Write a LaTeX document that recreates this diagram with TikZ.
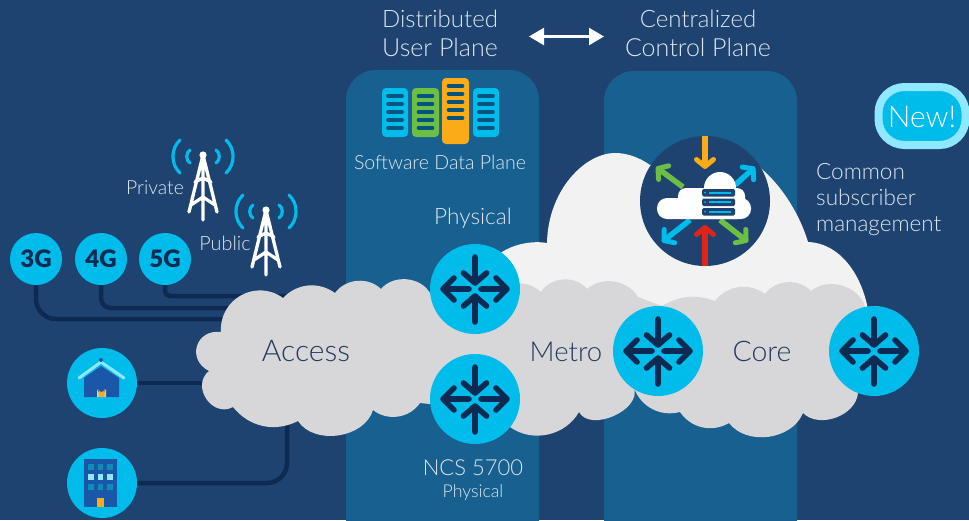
\documentclass[tikz,border=0pt]{standalone}
\usepackage{fontspec}
\setmainfont{Lato Light}
\newfontfamily\heavyf{Lato Black}
\usetikzlibrary{arrows.meta}
\definecolor{bgc}{HTML}{1F4370}
\definecolor{panelc}{HTML}{186090}
\definecolor{navy}{HTML}{0D2A52}
\definecolor{cyanc}{HTML}{00BCEB}
\definecolor{lcyan}{HTML}{8FE8FF}
\definecolor{greyc}{HTML}{D7D7D9}
\definecolor{whitec}{HTML}{F2F2F2}
\definecolor{greenc}{HTML}{6CBE45}
\definecolor{orangec}{HTML}{FBAB18}
\definecolor{redc}{HTML}{E2231A}
\definecolor{slotc}{HTML}{05537F}
\definecolor{blued}{HTML}{1A57A8}
\definecolor{tealc}{HTML}{0B8FB5}
\definecolor{textl}{HTML}{DDE6EE}
\definecolor{textd}{HTML}{25395F}
\newcommand{\fs}[1]{\fontsize{#1}{#1}\selectfont}
\tikzset{
  x=1pt,y=-1pt,
  panel/.style={fill=panelc,rounded corners=30},
  wire/.style={draw=navy,line width=4.5pt},
  dot/.style={circle,fill=cyanc,inner sep=0pt,minimum size=#1},
  gen/.style={dot=52pt,text=navy,font=\heavyf\fs{24}},
  routerc/.style={dot=90pt},
  lbl/.style={text=textl,inner sep=0pt,anchor=base},
  lblw/.style={text=textl,inner sep=0pt,anchor=base west},
  cloudlbl/.style={text=textd,inner sep=0pt,anchor=base},
  rack/.style={rounded corners=4},
  slot/.style={draw=slotc,line width=3.6pt,line cap=round},
  ctl/.style={line width=5.5pt,-{Straight Barb[length=7pt,width=17pt,line width=5pt,round]}},
  routerarrows/.pic={
    \draw[navy,line width=5.6pt,line cap=round,line join=round]
      (0,-32)--(0,-6) (-11.5,-16)--(0,-6)--(11.5,-16)
      (0,33)--(0,7) (-11.5,17)--(0,7)--(11.5,17)
      (-6,0)--(-32,0) (-21,-11)--(-32,0)--(-21,11)
      (6,0)--(32,0) (21,-11)--(32,0)--(21,11);
  },
  tower/.pic={
    \fill[white] (0,0) circle (3.6);
    \draw[white,line width=3.3pt,line cap=round,line join=round]
      (-14,57)--(0,0)--(14,57) (0,0)--(0,65)
      (-8,27)--(0,23)--(8,27) (-12,50)--(0,42)--(12,50);
    \draw[cyanc,line width=3.2pt,line cap=round]
      (-23,-15) to[bend right=47] (-23,18)
      (23,-15) to[bend left=47] (23,18)
      (-13,-5) to[bend right=60] (-13,8)
      (13,-5) to[bend left=60] (13,8);
  },
}
\begin{document}
\begin{tikzpicture}
\useasboundingbox (0,0) rectangle (969,520);
\fill[bgc] (0,0) rectangle (969,520);
% panels
\fill[panel] (346,70) rectangle (539,560);
\fill[panel] (604,71) rectangle (797,560);
% access nodes and wires
\node[gen] (n3g) at (36,259) {3G};
\node[gen] (n4g) at (101,259) {4G};
\node[gen] (n5g) at (165,259) {5G};
\node[dot=70pt] (home) at (102,383) {};
\node[dot=70pt] (bldg) at (102,483) {};
\coordinate (e3) at (260,319);
\coordinate (e4) at (260,308);
\coordinate (e5) at (290,296);
\coordinate (eh) at (225,383);
\coordinate (eb) at (287,410);
\draw[wire,rounded corners=20] (n3g.south) |- (e3);
\draw[wire,rounded corners=10] (n4g.south) |- (e4);
\draw[wire,rounded corners=5] (n5g.south) |- (e5);
\draw[wire] (home.east) -- (eh);
\draw[wire,rounded corners=20] (bldg.east) -| (eb);
% home icon
\fill[blued] (84,397)--(84,378)--(101,366)--(119,378)--(119,397)--cycle;
\draw[lcyan,line width=3pt,line cap=round,line join=miter] (79,378)--(101,362)--(124,378);
\fill[blued] (101,360) circle (2);
\fill[lcyan] (97,397)--(97,389) arc[start angle=180,end angle=0,radius=4.5] --(106,397)--cycle;
\fill[orangec] (98.5,397)--(98.5,389) arc[start angle=180,end angle=0,radius=3] --(104.5,397)--cycle;
% building icon
\fill[blued] (84,459) rectangle (117,507);
\foreach \xx in {88,97.5,107}{
  \fill[tealc] (\xx,464) rectangle +(5.8,6);
  \fill[lcyan] (\xx,474) rectangle +(5.8,6);
  \fill[tealc] (\xx,484) rectangle +(5.8,6);
}
\fill[orangec] (97,498) rectangle (104,507);
% towers
\pic at (203,155) {tower};
\pic at (266,210) {tower};
% white cloud
\fill[whitec] (490,262) .. controls (505,245) and (530,240) .. (547,243)
  .. controls (548,190) and (585,153) .. (615,153)
  .. controls (628,153) and (640,158) .. (650,165)
  -- (700,150) -- (750,160)
  .. controls (780,180) and (800,215) .. (808,242)
  .. controls (840,243) and (862,275) .. (868,310)
  -- (700,340) -- (480,300) -- cycle;
% grey cloud
\fill[greyc] (209,371) to[bend left=80,looseness=1.6] (221,332)
  to[bend left=65,looseness=1.2] (283,298)
  to[bend left=41] (335,293)
  to[bend left=49] (381,289)
  to[bend left=55] (430,293)
  -- (512,284)
  to[bend left=25] (541,292)
  to[bend left=55] (587,289)
  to[bend left=50] (638,297)
  -- (662,306)
  to[bend left=25] (715,301)
  to[bend left=45] (765,294)
  to[bend left=50] (811,291)
  to[bend left=55] (865,306)
  -- (858,393)
  to[bend left=65] (803,413)
  to[bend left=60] (729,423)
  to[bend left=43] (680,412)
  to[bend left=42] (634,388)
  to[bend left=85] (579,412)
  to[bend left=48] (510,427)
  -- (430,404) -- (420,403)
  to[bend left=47] (373,410)
  to[bend left=65] (298,421)
  to[bend left=39] (233,407)
  to[bend left=85,looseness=1.4] cycle;
% control circle
\fill[bgc] (705,201) circle (65);
\draw[ctl,draw=orangec] (705,136) -- (705,169);
\draw[ctl,draw=redc] (705,266) -- (705,225);
\draw[ctl,draw=greenc] (683,187) -- (656,167);
\draw[ctl,draw=cyanc] (735,185) -- (755,167);
\draw[ctl,draw=cyanc] (690,220) -- (662,242);
\draw[ctl,draw=greenc] (720,220) -- (748,242);
\fill[white,rounded corners=10] (657,198) rectangle (751,219);
\fill[white,rounded corners=8] (678,188) rectangle (745,219);
\fill[white] (720,188) circle (16);
\foreach \yy in {189,198.5,208}{
  \fill[bgc,rounded corners=1.5] (702,\yy) rectangle +(33,7.5);
  \fill[cyanc] (709,\yy+2.8) rectangle +(22,2);
  \fill[cyanc] (705,\yy+3.7) circle (1);
}
% routers
\node[routerc] (r1) at (475,289) {};
\node[routerc] (r2) at (475,399) {};
\node[routerc] (r3) at (658,351) {};
\node[routerc] (r4) at (874,351) {};
\foreach \r in {r1,r2,r3,r4}{\pic at (\r) {routerarrows};}
% server racks
\fill[cyanc,rack] (382,88) rectangle (408,137);
\fill[greenc,rack] (412,88) rectangle (439,137);
\fill[orangec,rack] (442,78) rectangle (469,144);
\fill[cyanc,rack] (473,88) rectangle (499,137);
\foreach \xx in {395,425.5,486}{
  \foreach \yy in {96,104,112,120,128}{
    \draw[slot] (\xx-7,\yy) -- (\xx+7,\yy);
  }
}
\foreach \yy in {86,94,102,110,118}{
  \draw[slot] (455.5-7,\yy) -- (455.5+7,\yy);
}
% double arrow
\coordinate (du) at (529,36.5);
\coordinate (cc) at (604,36.5);
\draw[white,line width=2.4pt,{Triangle[length=15pt,width=17pt]}-{Triangle[length=15pt,width=17pt]}] (du) -- (cc);
% texts
\node[lbl,font=\fs{24}] (t1) at (440,27) {Distributed};
\node[lbl,font=\fs{25}] (t2) at (440,56) {User Plane};
\node[lbl,font=\fs{24}] (t3) at (698,27) {Centralized};
\node[lbl,font=\fs{25}] (t4) at (698,56) {Control Plane};
\node[lbl,font=\fs{19.6}] (t5) at (440,169) {Software Data Plane};
\node[lbl,font=\fs{22.6}] (t6) at (473,224) {Physical};
\node[lbl,font=\fs{19.4}] (t7) at (155,194) {Private};
\node[lbl,font=\fs{19.8}] (t8) at (225,250) {Public};
\node[lbl,font=\fs{22}] (t9) at (473,475) {NCS 5700};
\node[lbl,font=\fs{17.7}] (t10) at (473,497) {Physical};
\node[lblw,font=\fs{22.5}] (t11) at (816,179) {Common};
\node[lblw,font=\fs{22.5}] (t12) at (816,205) {subscriber};
\node[lblw,font=\fs{22.5}] (t13) at (816,231) {management};
\node[cloudlbl,font=\fs{30}] (access) at (306,361) {Access};
\node[cloudlbl,font=\fs{27.5}] (metro) at (566,361) {Metro};
\node[cloudlbl,font=\fs{28.4}] (core) at (762,361) {Core};
\node[draw=lcyan,fill=cyanc,line width=8pt,rounded corners=26pt,minimum width=87pt,minimum height=58pt,inner sep=0pt] (new) at (922,116) {};
\node[inner sep=0pt,anchor=base,text=white,font=\fs{30}] (newt) at (922,127) {New!};
\end{tikzpicture}
\end{document}
